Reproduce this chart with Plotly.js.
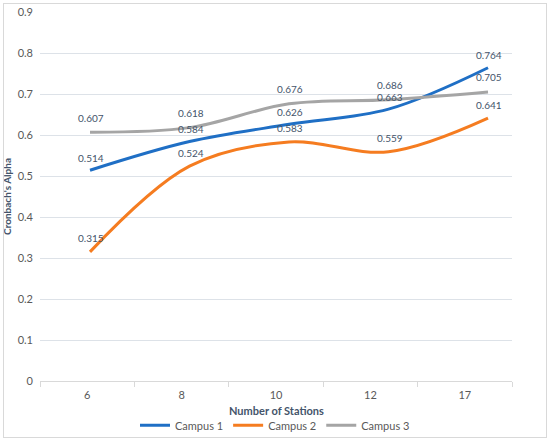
<!DOCTYPE html>
<html>
<head>
<meta charset="utf-8">
<script src="https://cdn.plot.ly/plotly-3.0.1.min.js"></script>
<style>
html,body{margin:0;padding:0;background:#fff;}
#wrap{position:relative;width:550px;height:442px;}
#chart{width:550px;height:442px;}
#frame{position:absolute;left:3px;top:3px;width:542px;height:433px;border:1px solid #d9d9d9;pointer-events:none;}
</style>
</head>
<body>
<div id="wrap"><div id="chart"></div><div id="frame"></div></div>
<script>
const stations = ['6', '8', '10', '12', '17'];
const campus1 = [0.514, 0.584, 0.626, 0.663, 0.764];
const campus2 = [0.315, 0.524, 0.583, 0.559, 0.641];
const campus3 = [0.607, 0.618, 0.676, 0.686, 0.705];
const seriesNames = ['Campus 1', 'Campus 2', 'Campus 3'];
const yTicks = [0, 0.1, 0.2, 0.3, 0.4, 0.5, 0.6, 0.7, 0.8, 0.9];
const xTitle = 'Number of Stations';
const yTitle = "Cronbach's Alpha";

const colors = ['#1f6fc5', '#f57c20', '#a5a5a5'];
const labelShift = [12.5, 13.5, 14.5];
const allSeries = [campus1, campus2, campus3];
const FONT = 'Lato, "Open Sans", sans-serif';
const n = stations.length;
const idx = stations.map((s, i) => i);
// line axis range (lines slightly stretched relative to the category band layout, as in the source image)
const L = -0.5025, R = 4.241;
const bandPos = k => L + (k + 0.5) / n * (R - L);
const tickPos = idx.map(bandPos);
const boundPos = [-0.5].concat(idx.map(i => i + 0.5)).map(bandPos);

const traces = allSeries.map((vals, i) => ({
  x: idx, y: vals, name: seriesNames[i], type: 'scatter', mode: 'lines',
  line: {color: colors[i], width: 3, shape: 'spline', smoothing: 1},
  hoverinfo: 'skip'
}));

const annotations = [];
allSeries.forEach((vals, i) => {
  vals.forEach((v, j) => {
    annotations.push({
      x: idx[j], y: v, xref: 'x', yref: 'y', text: v.toFixed(3),
      showarrow: false, yshift: labelShift[i], xshift: 1,
      font: {family: FONT, size: 10, color: '#44546a'}
    });
  });
});
// x-axis title
annotations.push({
  x: 0.5, y: 0, xref: 'paper', yref: 'paper', yanchor: 'middle', yshift: -29,
  text: '<b>' + xTitle + '</b>', showarrow: false,
  font: {family: FONT, size: 11, color: '#44546a'}
});

const layout = {
  width: 550, height: 442,
  margin: {l: 40, r: 38, t: 12, b: 61},
  paper_bgcolor: '#ffffff', plot_bgcolor: '#ffffff',
  font: {family: FONT, size: 11, color: '#595959'},
  showlegend: true,
  legend: {orientation: 'h', xref: 'container', yref: 'container',
    x: 0.5, xanchor: 'center', y: 0.038, yanchor: 'middle',
    font: {size: 11, color: '#595959', family: FONT}, itemwidth: 30, tracegroupgap: 0},
  xaxis: {
    type: 'linear', range: [L, R], showgrid: false, zeroline: false, automargin: false,
    showline: true, linecolor: '#d9d9d9', linewidth: 1,
    tickmode: 'array', tickvals: tickPos, ticktext: stations, ticks: '',
    minor: {tickmode: 'array', tickvals: boundPos, ticks: 'outside', ticklen: 5, tickcolor: '#d9d9d9', showgrid: false},
    ticklabelstandoff: 4,
    tickfont: {size: 11, color: '#595959', family: FONT}
  },
  yaxis: {
    range: [0, 0.9], tickvals: yTicks, ticktext: yTicks.map(String), automargin: false,
    showgrid: true, gridcolor: '#dde2e8', gridwidth: 1, zeroline: false,
    showline: false, ticks: '', ticklabelstandoff: 6,
    tickfont: {size: 11, color: '#595959', family: FONT},
    title: {text: yTitle, standoff: 4,
      font: {size: 10, color: '#44546a', family: FONT, weight: 'bold'}}
  },
  annotations: annotations
};

Plotly.newPlot('chart', traces, layout, {displayModeBar: false, staticPlot: true});
</script>
</body>
</html>
